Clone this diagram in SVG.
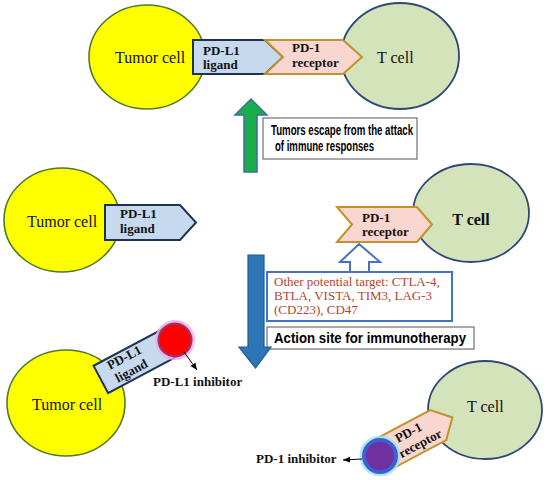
<svg xmlns="http://www.w3.org/2000/svg" width="550" height="480" viewBox="0 0 550 480">
<defs>
<marker id="ah" markerWidth="8" markerHeight="8" refX="7" refY="4" orient="auto" markerUnits="userSpaceOnUse"><path d="M0,1 L7,4 L0,7 Z" fill="#000"/></marker>
<style>
.tumor{fill:#FFFF00;stroke:#4F7A28;stroke-width:1.6}
.tcell{fill:#D5E3BA;stroke:#2F4778;stroke-width:1.8}
.lig{fill:#C6D9EF;stroke:#1F3350;stroke-width:2}
.rec{fill:#F9D6CF;stroke:#C0922E;stroke-width:2}
.cellt{font-family:"Liberation Serif","Times New Roman",serif;font-size:16px;fill:#111}
.bt{font-family:"Liberation Serif","Times New Roman",serif;font-size:13px;font-weight:bold;fill:#111}
.sans{font-family:"Liberation Sans",Arial,sans-serif;font-weight:bold;fill:#000}
.red{font-family:"Liberation Serif","Times New Roman",serif;font-size:13px;fill:#B5452E}
.box{fill:#fff;stroke:#555;stroke-width:1}
.inh{stroke:#000;stroke-width:1;fill:none;marker-end:url(#ah)}
</style>
</defs>
<rect width="550" height="480" fill="#fff"/>

<g id="top-tumor-cell">
<ellipse class="tumor" cx="147" cy="57" rx="58" ry="52"/>
<text class="cellt" x="115" y="63">Tumor cell</text>
</g>
<g id="top-t-cell">
<ellipse class="tcell" cx="400" cy="56" rx="59" ry="53"/>
<text class="cellt" x="377" y="63">T cell</text>
</g>
<g id="top-pd-l1">
<polygon class="lig" points="193,40 265,40 283,57 265,74 193,74"/>
<text class="bt" x="203" y="55">PD-L1</text>
<text class="bt" x="203" y="69">ligand</text>
</g>
<g id="top-pd-1">
<polygon class="rec" points="265,40 343,40 362,57 343,74 265,74 283,57"/>
<text class="bt" x="292" y="52">PD-1</text>
<text class="bt" x="292" y="67">receptor</text>
</g>

<g id="escape-box">
<rect class="box" x="263" y="118" width="154" height="41"/>
<text class="sans" font-size="14" x="271" y="135" textLength="142" lengthAdjust="spacingAndGlyphs">Tumors escape from the attack</text>
<text class="sans" font-size="14" x="275" y="151" textLength="99" lengthAdjust="spacingAndGlyphs">of immune responses</text>
</g>

<g id="mid-tumor-cell">
<ellipse class="tumor" cx="62" cy="220" rx="58" ry="52"/>
<text class="cellt" x="27" y="227">Tumor cell</text>
</g>
<g id="mid-pd-l1">
<polygon class="lig" points="105,205 180,205 196,222.5 180,240 105,240"/>
<text class="bt" x="120" y="218">PD-L1</text>
<text class="bt" x="120" y="233">ligand</text>
</g>
<g id="mid-t-cell">
<ellipse class="tcell" cx="471" cy="213" rx="58" ry="49"/>
<text class="cellt" x="471" y="225" font-weight="bold" font-size="17" text-anchor="middle">T cell</text>
</g>
<g id="mid-pd-1">
<polygon class="rec" points="337,207 417,207 432,224.5 417,242 337,242 352,224.5"/>
<text class="bt" x="362" y="222">PD-1</text>
<text class="bt" x="362" y="236">receptor</text>
</g>

<g id="targets-box">
<rect x="267" y="272" width="185" height="49" fill="#fff" stroke="#4472C4" stroke-width="2"/>
<text class="red" x="274" y="286">Other potential target: CTLA-4,</text>
<text class="red" x="274" y="300">BTLA, VISTA, TIM3, LAG-3</text>
<text class="red" x="274" y="314">(CD223), CD47</text>
</g>
<g id="action-box">
<rect class="box" x="267" y="327" width="207" height="22" stroke="#777"/>
<text class="sans" font-size="14.5" x="274" y="343" textLength="192" lengthAdjust="spacingAndGlyphs">Action site for immunotherapy</text>
</g>

<g id="bottom-tumor-cell">
<ellipse class="tumor" cx="66" cy="403" rx="59" ry="53"/>
<text class="cellt" x="32" y="410">Tumor cell</text>
</g>
<g id="bottom-pd-l1" transform="translate(175,340) rotate(-28)">
<rect class="lig" x="-84" y="-15.5" width="84" height="31"/>
<text class="bt" x="-53" y="-4" text-anchor="middle">PD-L1</text>
<text class="bt" x="-53" y="11" text-anchor="middle">ligand</text>
</g>
<g id="pd-l1-inhibitor">
<circle cx="175" cy="340" r="18.5" fill="none" stroke="#F0A8EC" stroke-width="3" opacity="0.8"/>
<circle cx="175" cy="340" r="16.5" fill="#FF0000" stroke="#8E3A6E" stroke-width="2"/>
<text class="bt" x="153" y="386">PD-L1 inhibitor</text>
</g>

<g id="bottom-t-cell">
<ellipse class="tcell" cx="485" cy="410" rx="57" ry="49"/>
<text class="cellt" x="467" y="412">T cell</text>
</g>
<g id="bottom-pd-1" transform="translate(380,456) rotate(-28)">
<polygon class="rec" points="0,-17 66,-17 82,0 66,17 0,17"/>
<text class="bt" x="22" y="-3">PD-1</text>
<text class="bt" x="18" y="12">receptor</text>
</g>
<g id="pd-1-inhibitor">
<circle cx="380" cy="456" r="19" fill="none" stroke="#9FE3F5" stroke-width="3" opacity="0.8"/>
<circle cx="380" cy="456" r="16" fill="#7030A0" stroke="#3D5FD0" stroke-width="4"/>
<text class="bt" x="256" y="463">PD-1 inhibitor</text>
</g>

<g id="connectors">
<polygon points="251,99 267,115 257,115 257,172 244,172 244,115 235,115" fill="#1AAE4B" stroke="#3A6FA0" stroke-width="1.5"/>
<polygon points="359,244 380,262 369,262 369,272 350,272 350,262 340,262" fill="#fff" stroke="#4472C4" stroke-width="2"/>
<polygon points="248,255 264,255 264,347 271,347 255.5,368 239,347 248,347" fill="#2E75B6" stroke="#1F5A8F" stroke-width="1.2"/>
<line class="inh" x1="184" y1="352" x2="197" y2="370"/>
<line class="inh" x1="362" y1="459" x2="343" y2="460"/>
</g>
</svg>
